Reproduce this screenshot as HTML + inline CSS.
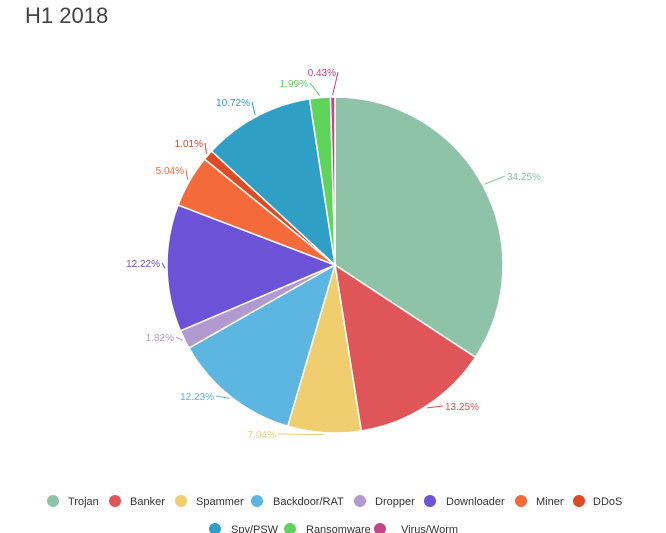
<!DOCTYPE html>
<html><head><meta charset="utf-8"><style>
html,body{margin:0;padding:0;background:#fff;}
svg{display:block;font-family:"Liberation Sans",sans-serif;}
</style></head><body>
<svg id="s" width="666" height="533" viewBox="0 0 666 533">
<text x="25" y="23" font-size="22" fill="#444">H1 2018</text>
<g id="pie"></g>
<g font-size="11" fill="#333">
<circle cx="53" cy="501" r="6" fill="#8fc3a7"/><text x="68" y="505">Trojan</text>
<circle cx="115" cy="501" r="6" fill="#e05557"/><text x="130" y="505">Banker</text>
<circle cx="181" cy="501" r="6" fill="#f0cd6e"/><text x="196" y="505">Spammer</text>
<circle cx="257" cy="501" r="6" fill="#5db5e2"/><text x="273" y="505">Backdoor/RAT</text>
<circle cx="360" cy="501" r="6" fill="#b09ad0"/><text x="375" y="505">Dropper</text>
<circle cx="430" cy="501" r="6" fill="#6b52d6"/><text x="446" y="505">Downloader</text>
<circle cx="521" cy="501" r="6" fill="#f46a3a"/><text x="536" y="505">Miner</text>
<circle cx="579" cy="501" r="6" fill="#dd4a26"/><text x="593" y="505">DDoS</text>
<circle cx="215" cy="529" r="6" fill="#2f9fc5"/><text x="231" y="533">Spy/PSW</text>
<circle cx="290" cy="529" r="6" fill="#5ed45a"/><text x="306" y="533">Ransomware</text>
<circle cx="380" cy="529" r="6" fill="#c2458b"/><text x="401" y="533">Virus/Worm</text>
</g>
</svg>
<script>
var d=[[34.25,"#8fc3a7",507,180,"start"],[13.25,"#e05557",445,410,"start"],[7.04,"#f0cd6e",276,438,"end"],[12.23,"#5db5e2",214,400,"end"],[1.82,"#b09ad0",174,341,"end"],[12.22,"#6b52d6",160,267,"end"],[5.04,"#f46a3a",184,174,"end"],[1.01,"#dd4a26",203,147,"end"],[10.72,"#2f9fc5",250,106,"end"],[1.99,"#5ed45a",308,87,"end"],[0.43,"#c2458b",336,76,"end"]];
var cx=335,cy=265,r=168,a=0,g=document.getElementById("pie"),h="";
d.forEach(function(e){var a1=a+e[0]/100*2*Math.PI;
var x0=cx+r*Math.sin(a),y0=cy-r*Math.cos(a),x1=cx+r*Math.sin(a1),y1=cy-r*Math.cos(a1);
h+='<path d="M'+cx+','+cy+'L'+x0+','+y0+'A'+r+','+r+' 0 '+(a1-a>Math.PI?1:0)+' 1 '+x1+','+y1+'Z" fill="'+e[1]+'" stroke="#fff" stroke-width="1.5"/>';
var m=(a+a1)/2,lx=cx+(r+2)*Math.sin(m),ly=cy-(r+2)*Math.cos(m),ex=e[4]=="start"?e[2]-2:e[2]+2;
h+='<path d="M'+lx+','+ly+'L'+ex+','+(e[3]-4)+'" stroke="'+e[1]+'" fill="none" stroke-width="1"/>';
h+='<text x="'+e[2]+'" y="'+e[3]+'" font-size="10" fill="'+e[1]+'" text-anchor="'+e[4]+'">'+e[0].toFixed(2)+'%</text>';
a=a1;});
g.innerHTML=h;
</script>
</body></html>
